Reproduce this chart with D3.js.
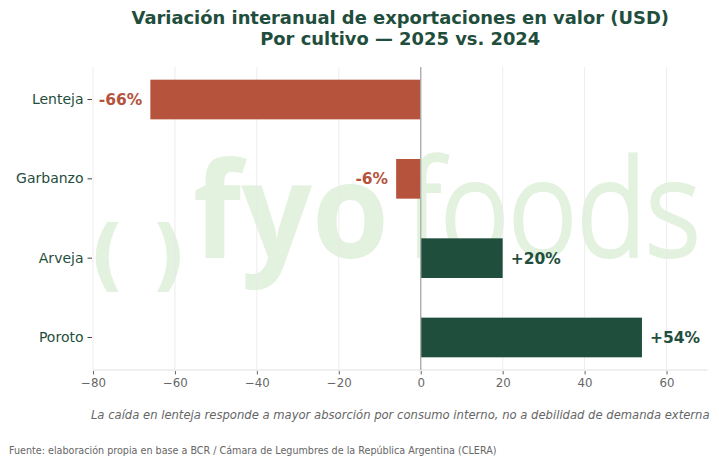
<!DOCTYPE html>
<html>
<head>
<meta charset="utf-8">
<script src="https://cdn.jsdelivr.net/npm/d3@7"></script>
<style>
  body { margin: 0; background: #fff; }
  text { font-family: "DejaVu Sans", sans-serif; }
</style>
</head>
<body>
<script>
  var w = 719;
  var h = 464;
  var margin = { top: 67, right: 11.5, bottom: 94, left: 93 };

  // data
  var cultivos = ["Lenteja", "Garbanzo", "Arveja", "Poroto"];
  var variacion = [-66, -6, 20, 54];
  var etiquetas = ["-66%", "-6%", "+20%", "+54%"];
  var xTicks = [-80, -60, -40, -20, 0, 20, 40, 60];

  var rojo = "#b5533c";
  var verde = "#1f4e3d";
  var marca = "#e3f1df";

  var svg = d3.select("body").append("svg")
    .attr("width", w)
    .attr("height", h);

  var xScale = d3.scaleLinear()
    .domain([-80, 70])
    .range([margin.left, w - margin.right]);

  var yScale = d3.scaleBand()
    .domain(cultivos)
    .range([margin.top, h - margin.bottom])
    .paddingInner(0.5)
    .paddingOuter(0.16);

  // watermark logo
  var wm = svg.append("g").attr("fill", marca);
  wm.append("text")
    .attr("x", 89).attr("y", 282)
    .attr("font-size", 78).attr("font-weight", "bold")
    .text("(");
  wm.append("text")
    .attr("x", 151).attr("y", 282)
    .attr("font-size", 78).attr("font-weight", "bold")
    .text(")");
  wm.append("text")
    .attr("x", 193).attr("y", 258)
    .attr("font-size", 132).attr("font-weight", "bold")
    .style("font-family", "'Open Sans', 'DejaVu Sans', sans-serif")
    .attr("textLength", 196).attr("lengthAdjust", "spacingAndGlyphs")
    .text("fyo");
  wm.append("text")
    .attr("x", 406).attr("y", 256)
    .attr("font-size", 132).attr("font-weight", 300)
    .style("font-family", "'Open Sans', 'Lato', sans-serif")
    .attr("stroke", marca).attr("stroke-width", 4)
    .attr("textLength", 294).attr("lengthAdjust", "spacingAndGlyphs")
    .text("foods");

  // grid
  svg.append("g")
    .selectAll("line")
    .data(xTicks)
    .enter()
    .append("line")
    .attr("x1", function (d) { return xScale(d); })
    .attr("x2", function (d) { return xScale(d); })
    .attr("y1", margin.top)
    .attr("y2", h - margin.bottom)
    .attr("stroke", "#e8e8e8")
    .attr("stroke-width", 0.8);

  // bottom spine
  svg.append("line")
    .attr("x1", margin.left).attr("x2", w - margin.right)
    .attr("y1", h - margin.bottom).attr("y2", h - margin.bottom)
    .attr("stroke", "#e0e0e0")
    .attr("stroke-width", 1);

  // bars
  svg.selectAll("rect.bar")
    .data(cultivos)
    .enter()
    .append("rect")
    .attr("class", "bar")
    .attr("x", function (d, i) { return xScale(Math.min(0, variacion[i])); })
    .attr("y", function (d) { return yScale(d); })
    .attr("width", function (d, i) { return Math.abs(xScale(variacion[i]) - xScale(0)); })
    .attr("height", yScale.bandwidth())
    .attr("fill", function (d, i) { return variacion[i] < 0 ? rojo : verde; });

  // zero line
  svg.append("line")
    .attr("x1", xScale(0)).attr("x2", xScale(0))
    .attr("y1", margin.top).attr("y2", h - margin.bottom)
    .attr("stroke", "#aaaaaa")
    .attr("stroke-width", 1.3);

  // value labels
  svg.selectAll("text.valor")
    .data(cultivos)
    .enter()
    .append("text")
    .attr("class", "valor")
    .attr("x", function (d, i) {
      return variacion[i] < 0 ? xScale(variacion[i]) - 8 : xScale(variacion[i]) + 8;
    })
    .attr("y", function (d) { return yScale(d) + yScale.bandwidth() / 2; })
    .attr("dy", "0.36em")
    .attr("text-anchor", function (d, i) { return variacion[i] < 0 ? "end" : "start"; })
    .attr("font-size", 15.5)
    .attr("font-weight", "bold")
    .attr("fill", function (d, i) { return variacion[i] < 0 ? rojo : verde; })
    .text(function (d, i) { return etiquetas[i]; });

  // x axis
  var xAxis = d3.axisBottom(xScale)
    .tickValues(xTicks)
    .tickSize(3.5)
    .tickPadding(4);

  svg.append("g")
    .attr("transform", "translate(0," + (h - margin.bottom + 1) + ")")
    .call(xAxis)
    .call(function (g) {
      g.select(".domain").remove();
      g.selectAll(".tick line").attr("stroke", "#666");
      g.selectAll(".tick text")
        .attr("fill", "#666")
        .attr("font-size", 11.8)
        .style("font-family", "'DejaVu Sans', sans-serif");
    });

  // y axis
  var yAxis = d3.axisLeft(yScale)
    .tickSize(4.5)
    .tickPadding(4);

  svg.append("g")
    .attr("transform", "translate(" + (margin.left - 1) + ",0)")
    .call(yAxis)
    .call(function (g) {
      g.select(".domain").remove();
      g.selectAll(".tick line").attr("stroke", "#444");
      g.selectAll(".tick text")
        .attr("fill", verde)
        .attr("font-size", 14)
        .style("font-family", "'DejaVu Sans', sans-serif");
    });

  // title
  var cx = (margin.left + w - margin.right) / 2;
  var title = svg.append("text")
    .attr("text-anchor", "middle")
    .attr("font-size", 17.9)
    .attr("font-weight", "bold")
    .attr("fill", verde);
  title.append("tspan").attr("x", cx).attr("y", 24)
    .text("Variación interanual de exportaciones en valor (USD)");
  title.append("tspan").attr("x", cx).attr("y", 45)
    .text("Por cultivo — 2025 vs. 2024");

  // note
  svg.append("text")
    .attr("x", cx)
    .attr("y", 419)
    .attr("text-anchor", "middle")
    .attr("font-size", 11.6)
    .attr("font-style", "italic")
    .attr("fill", "#666")
    .text("La caída en lenteja responde a mayor absorción por consumo interno, no a debilidad de demanda externa");

  // source
  svg.append("text")
    .attr("x", 9)
    .attr("y", 454)
    .attr("font-size", 9.6)
    .attr("fill", "#666")
    .text("Fuente: elaboración propia en base a BCR / Cámara de Legumbres de la República Argentina (CLERA)");
</script>
</body>
</html>
